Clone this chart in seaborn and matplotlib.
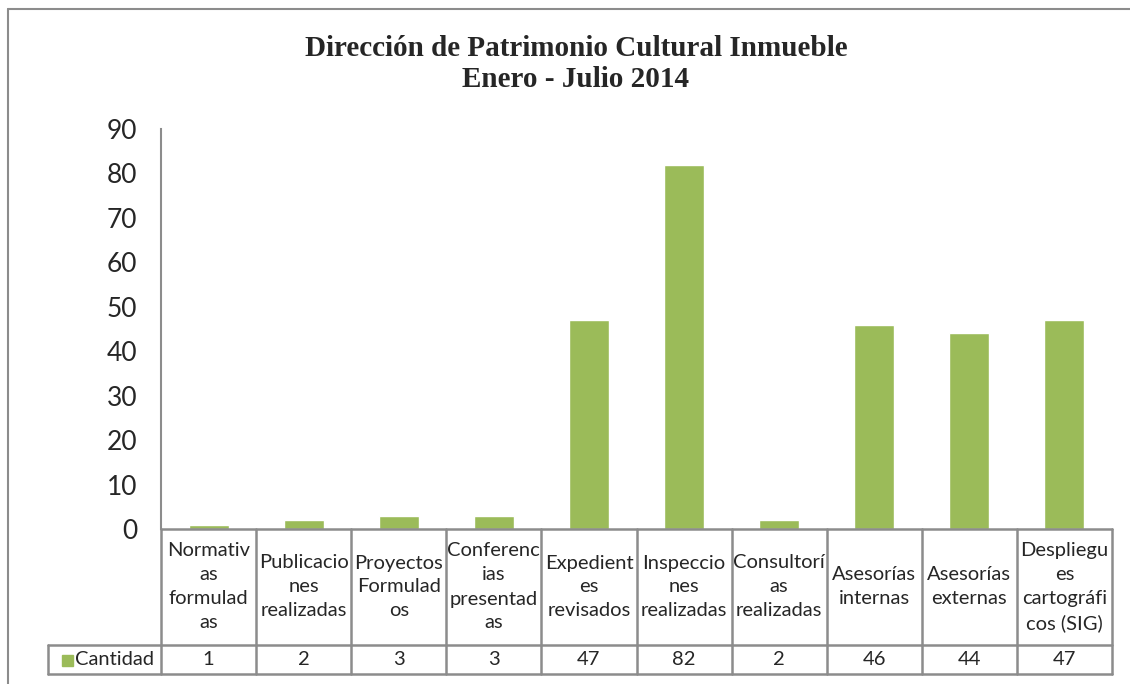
import matplotlib
matplotlib.use("Agg")
import matplotlib.pyplot as plt
from matplotlib.lines import Line2D
from matplotlib.patches import Rectangle
import seaborn as sns
import pandas as pd

# Data
categorias = [
    "Normativ\nas\nformulad\nas",
    "Publicacio\nnes\nrealizadas",
    "Proyectos\nFormulad\nos",
    "Conferenc\nias\npresentad\nas",
    "Expedient\nes\nrevisados",
    "Inspeccio\nnes\nrealizadas",
    "Consultorí\nas\nrealizadas",
    "Asesorías\ninternas",
    "Asesorías\nexternas",
    "Despliegu\nes\ncartográfi\ncos (SIG)",
]
cantidad = [1, 2, 3, 3, 47, 82, 2, 46, 44, 47]
serie = "Cantidad"
titulo = "Dirección de Patrimonio Cultural Inmueble\nEnero - Julio 2014"

verde = "#9BBB59"
gris = "#8C8C8C"

sns.set_style("white")
plt.rcParams["font.family"] = ["Lato", "DejaVu Sans"]

W, H = 1130, 684
fig = plt.figure(figsize=(W / 100, H / 100), dpi=100)

# axes placement in pixels
x0, x1 = 161, 1112
y_top, y_bot = 129, 529
ax = fig.add_axes([x0 / W, 1 - y_bot / H, (x1 - x0) / W, (y_bot - y_top) / H])

df = pd.DataFrame({"cat": range(len(categorias)), "val": cantidad})
sns.barplot(data=df, x="cat", y="val", color=verde, saturation=1, width=0.42, ax=ax)

ax.set_ylim(0, 90)
ax.set_xlim(-0.5, len(categorias) - 0.5)
ax.set_yticks(range(0, 91, 10))
ax.set_xticks([])
ax.set_xlabel("")
ax.set_ylabel("")
ax.tick_params(axis="y", length=0, pad=17, labelsize=19)
for s in ["top", "right", "bottom"]:
    ax.spines[s].set_visible(False)
ax.spines["left"].set_color(gris)
ax.spines["left"].set_linewidth(1.5)

# table below axes, in data-x / axes-fraction-y
tr = ax.get_xaxis_transform()
ph = y_bot - y_top
def fy(py):
    return (y_bot - py) / ph

row1, row2 = 645, 674
px_per_cat = (x1 - x0) / len(categorias)
def dx(px):
    return -0.5 + (px - x0) / px_per_cat

fs = 14.5
lkw = dict(color=gris, lw=1.8, transform=tr, clip_on=False)
# horizontal lines
ax.plot([-0.5, len(categorias) - 0.5], [fy(529), fy(529)], **lkw)
ax.plot([dx(48), len(categorias) - 0.5], [fy(row1), fy(row1)], **lkw)
ax.plot([dx(48), len(categorias) - 0.5], [fy(row2), fy(row2)], **lkw)
# vertical lines
for i in range(len(categorias) + 1):
    ax.plot([i - 0.5, i - 0.5], [fy(529), fy(row2)], **lkw)
ax.plot([dx(48), dx(48)], [fy(row1), fy(row2)], **lkw)

for i, (c, v) in enumerate(zip(categorias, cantidad)):
    ax.text(i, fy((529 + row1) / 2), c, transform=tr, ha="center", va="center",
            fontsize=fs, linespacing=1.5, clip_on=False)
    ax.text(i, fy((row1 + row2) / 2), str(v), transform=tr, ha="center", va="center",
            fontsize=fs, clip_on=False)

# legend key in first column
ax.add_patch(Rectangle((dx(62), fy(666)), (dx(73) - dx(62)), fy(655) - fy(666),
                       transform=tr, color=verde, clip_on=False))
ax.text(dx(75), fy((row1 + row2) / 2), serie, transform=tr, ha="left", va="center",
        fontsize=fs, clip_on=False)

# title
fig.text(576 / W, 1 - 64 / H, titulo, ha="center", va="center",
         fontsize=21, fontweight="bold", family="Liberation Serif", linespacing=1.2)

# chart area border (left and top)
fig.add_artist(Line2D([8 / W, 8 / W], [0, 1 - 9 / H], color=gris, lw=1.5))
fig.add_artist(Line2D([8 / W, 1], [1 - 9 / H, 1 - 9 / H], color=gris, lw=1.5))

fig.savefig("out.png", dpi=100)
